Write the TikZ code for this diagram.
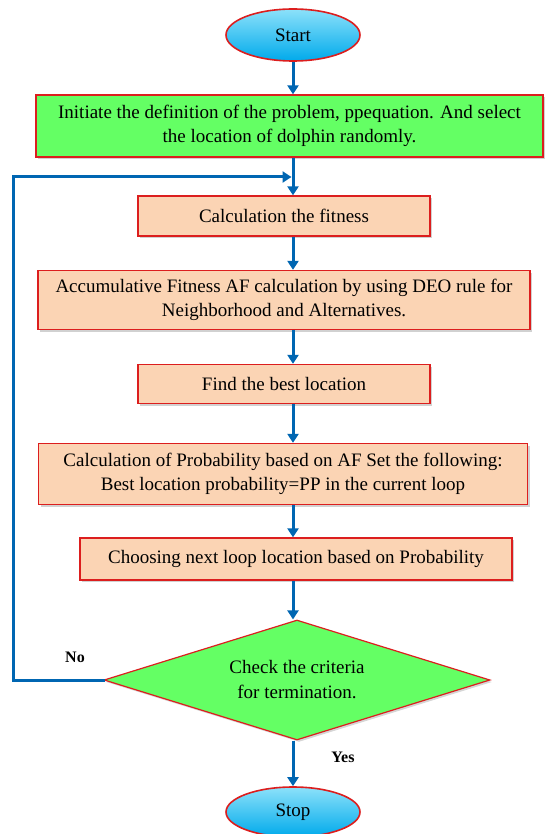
\documentclass[tikz,border=0pt]{standalone}
\usepackage{fontspec}
\setmainfont{Liberation Serif}
\usetikzlibrary{shapes.geometric,shadows,arrows.meta}
\definecolor{arrblue}{RGB}{0,102,178}
\definecolor{boxred}{RGB}{220,30,30}
\definecolor{peach}{RGB}{251,212,180}
\definecolor{lgreen}{RGB}{100,255,100}
\tikzset{
  base/.style={draw=boxred, line width=1.3pt, align=center, inner sep=2pt,
    font=\fontsize{19}{24}\selectfont,
    drop shadow={shadow xshift=2pt, shadow yshift=-2pt, fill=gray!45, opacity=0.8}},
  peachbox/.style={base, rectangle, fill=peach},
  greenbox/.style={base, rectangle, fill=lgreen},
  term/.style={ellipse, draw=boxred, line width=1.6pt, top color={rgb,255:red,140;green,225;blue,250},
    bottom color={rgb,255:red,0;green,170;blue,235}, font=\fontsize{19}{22}\selectfont,
    minimum width=134pt, minimum height=52pt, inner sep=0pt},
  dec/.style={diamond, draw=boxred, line width=1.2pt, fill=lgreen, aspect=3.2,
    minimum width=386pt, minimum height=120pt, inner sep=0pt, align=center,
    font=\fontsize{19}{25}\selectfont,
    drop shadow={shadow xshift=2pt, shadow yshift=-2pt, fill=gray!40, opacity=0.8}},
  flow/.style={draw=arrblue, line width=3pt, -{Triangle[width=11pt,length=9pt]}},
  lab/.style={font=\fontsize{16}{18}\selectfont\bfseries}
}
\begin{document}
\begin{tikzpicture}[x=1pt,y=-1pt]
\useasboundingbox (0,0) rectangle (544,834);
\node[term] (start) at (293,35) {Start};
\node[greenbox, minimum width=507pt, minimum height=62pt] (b1) at (289.5,126)
  {Initiate the definition of the problem, ppequation. And select\\the location of dolphin randomly.};
\node[peachbox, minimum width=292pt, minimum height=40pt] (b2) at (284,216) {Calculation the fitness};
\node[peachbox, minimum width=492pt, minimum height=59pt] (b3) at (284,300)
  {Accumulative Fitness AF calculation by using DEO rule for\\Neighborhood and Alternatives.};
\node[peachbox, minimum width=292pt, minimum height=39pt] (b4) at (284,384) {Find the best location};
\node[peachbox, minimum width=489pt, minimum height=61pt] (b5) at (283,474)
  {Calculation of Probability based on AF Set the following:\\Best location probability=PP in the current loop};
\node[peachbox, minimum width=432pt, minimum height=42pt] (b6) at (296,559)
  {Choosing next loop location based on Probability};
\node[dec] (d) at (297,680) {Check the criteria\\for termination.};
\node[term, minimum height=50pt] (stop) at (293,812) {Stop};
\node[lab] (no) at (75,657) {No};
\node[lab] (yes) at (343,757) {Yes};
\coordinate (lc) at (13,680);
\coordinate (lt) at (13,177);
\coordinate (lj) at (293,177);
\draw[flow] (start.south) -- (b1.north -| start.south);
\draw[flow] (b1.south -| start.south) -- (b2.north -| start.south);
\draw[flow] (b2.south -| start.south) -- (b3.north -| start.south);
\draw[flow] (b3.south -| start.south) -- (b4.north -| start.south);
\draw[flow] (b4.south -| start.south) -- (b5.north -| start.south);
\draw[flow] (b5.south -| start.south) -- (b6.north -| start.south);
\draw[flow] (b6.south -| start.south) -- (d.north -| start.south);
\draw[flow] (d.south -| start.south) -- (stop.north);
\draw[flow, line cap=rect] (d.west) -- (lc) -- (lt) -- ([xshift=-1.5pt]lj);
\end{tikzpicture}
\end{document}
